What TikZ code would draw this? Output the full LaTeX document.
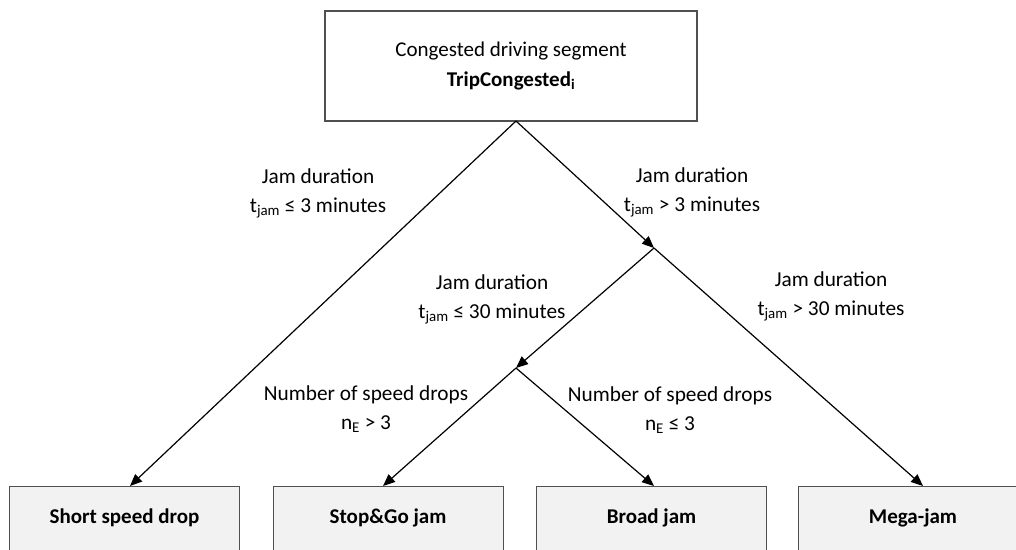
\documentclass[tikz,border=0pt]{standalone}
\usepackage{fontspec}
\setmainfont{Carlito}
\usetikzlibrary{arrows.meta}
\definecolor{boxline}{HTML}{505050}
\definecolor{boxfill}{HTML}{F2F2F2}
\begin{document}
\begin{tikzpicture}[x=1pt,y=-1pt,
  topbox/.style={draw=boxline,line width=1.2pt,fill=white,minimum width=372pt,minimum height=110pt,align=center,inner sep=0pt,font=\fontsize{21}{30}\selectfont},
  leafbox/.style={draw=boxline,line width=1pt,fill=boxfill,minimum width=230pt,minimum height=64pt,inner sep=0pt,font=\fontsize{21}{25}\selectfont\bfseries},
  lbl/.style={align=center,font=\fontsize{21.3}{29}\selectfont,inner sep=0pt},
  conn/.style={line width=1.2pt,-{Triangle[length=12pt,width=10pt]}}]
\useasboundingbox (0,0) rectangle (1016,549);
\clip (0,0) rectangle (1016,549);
\node[topbox] (top) at (511,66) {Congested driving segment\\ \textbf{TripCongested\textsubscript{i}}};
\node[leafbox] (short) at (124.5,518) {Short speed drop};
\node[leafbox] (stop) at (388,518) {Stop\&Go jam};
\node[leafbox] (broad) at (651.5,518) {Broad jam};
\node[leafbox] (mega) at (913,518) {Mega-jam};
\coordinate (apex) at (516,121);
\coordinate (j1) at (654,248);
\coordinate (j2) at (516,368);
\coordinate (tshort) at (130,486);
\coordinate (tstop) at (383,486);
\coordinate (tbroad) at (654,486);
\coordinate (tmega) at (923,486);
\draw[conn] (apex) -- (tshort);
\draw[conn] (apex) -- (j1);
\draw[conn] (j1) -- (tmega);
\draw[conn] (j1) -- (j2);
\draw[conn] (j2) -- (tstop);
\draw[conn] (j2) -- (tbroad);
\node[lbl] (l1) at (318,193.5) {Jam duration\\ t\textsubscript{jam} ≤ 3 minutes};
\node[lbl] (l2) at (692,192.5) {Jam duration\\ t\textsubscript{jam} > 3 minutes};
\node[lbl] (l3) at (492,299.5) {Jam duration\\ t\textsubscript{jam} ≤ 30 minutes};
\node[lbl] (l4) at (831,296) {Jam duration\\ t\textsubscript{jam} > 30 minutes};
\node[lbl] (l5) at (366,409) {Number of speed drops\\ n\textsubscript{E} > 3};
\node[lbl] (l6) at (670,410.5) {Number of speed drops\\ n\textsubscript{E} ≤ 3};
\end{tikzpicture}
\end{document}
